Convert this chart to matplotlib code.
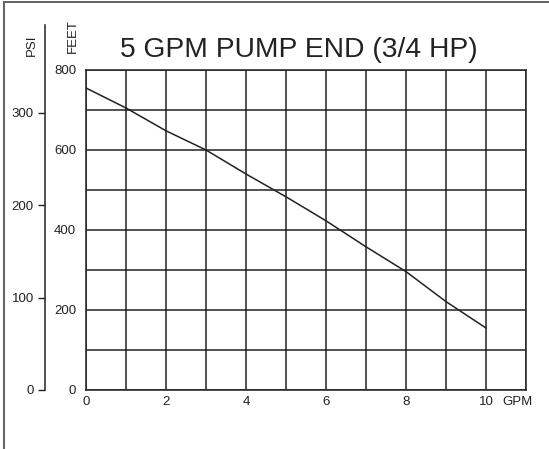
import matplotlib
matplotlib.use("Agg")
import matplotlib.pyplot as plt
from matplotlib.lines import Line2D
from matplotlib.transforms import offset_copy

plt.rcParams['font.family'] = ['Liberation Sans', 'DejaVu Sans']

# Data (flow in GPM, head in feet)
gpm = [0, 1, 2, 3, 4, 5, 6, 7, 8, 9, 10]
feet = [755, 705, 648, 600, 540, 483, 423, 358, 296, 221, 155]

x_major = [0, 2, 4, 6, 8, 10]
x_minor = [1, 3, 5, 7, 9, 11]
y_major = [0, 200, 400, 600, 800]
y_minor = [100, 300, 500, 700]
psi_ticks = [0, 100, 200, 300]
FT_PER_PSI = 2.31

W, H = 549, 449
fig = plt.figure(figsize=(W / 100, H / 100), dpi=100)

ink = '#222222'
lw = 1.1
fs = 9.5

# main axes
ax = fig.add_axes([86 / W, (H - 390) / H, 440 / W, 320 / H])
ax.plot(gpm, feet, color=ink, lw=1.1, zorder=3)
ax.set_xlim(0, 11)
ax.set_ylim(0, 800)
ax.set_xticks(x_major)
ax.set_xticks(x_minor, minor=True)
ax.set_yticks(y_major)
ax.set_yticks(y_minor, minor=True)
ax.grid(True, which='both', color=ink, lw=lw)
ax.tick_params(which='both', length=0, labelsize=fs, colors=ink)
ax.tick_params(axis='x', pad=4)
ax.tick_params(axis='y', pad=7)
for s in ax.spines.values():
    s.set_color(ink)
    s.set_linewidth(lw)

# unit label beside the last x tick label
trans = offset_copy(ax.get_xaxis_transform(), fig=fig, x=0, y=-4, units='points')
ax.text(10.4, 0, 'GPM', transform=trans, fontsize=fs, color=ink,
        ha='left', va='top', clip_on=False)

# PSI axis
top_psi = (390 - 25) / 0.4 / FT_PER_PSI
pax = fig.add_axes([45 / W, (H - 390) / H, 1e-4, 365 / H])
pax.set_ylim(0, top_psi)
pax.set_xticks([])
pax.set_yticks(psi_ticks)
pax.tick_params(axis='y', length=5, width=1, labelsize=fs, colors=ink, pad=3)
for k in ['top', 'right', 'bottom']:
    pax.spines[k].set_visible(False)
pax.spines['left'].set_color(ink)
pax.spines['left'].set_linewidth(1.1)
pax.patch.set_visible(False)

# axis titles
fig.text(32 / W, 1 - 45 / H, 'PSI', rotation=90, fontsize=fs, color=ink,
         ha='center', va='center')
fig.text(73 / W, 1 - 36 / H, 'FEET', rotation=90, fontsize=fs, color=ink,
         ha='center', va='center')
fig.text(120 / W, 1 - 57 / H, '5 GPM PUMP END (3/4 HP)', fontsize=20.3,
         color=ink, ha='left', va='baseline')

# frame lines
fig.add_artist(Line2D([4 / W, 1], [1 - 2 / H, 1 - 2 / H], color='#555555', lw=1.3))
fig.add_artist(Line2D([4 / W, 4 / W], [0, 1 - 2 / H], color='#666666', lw=1.5))

fig.savefig('out.png', dpi=100)
